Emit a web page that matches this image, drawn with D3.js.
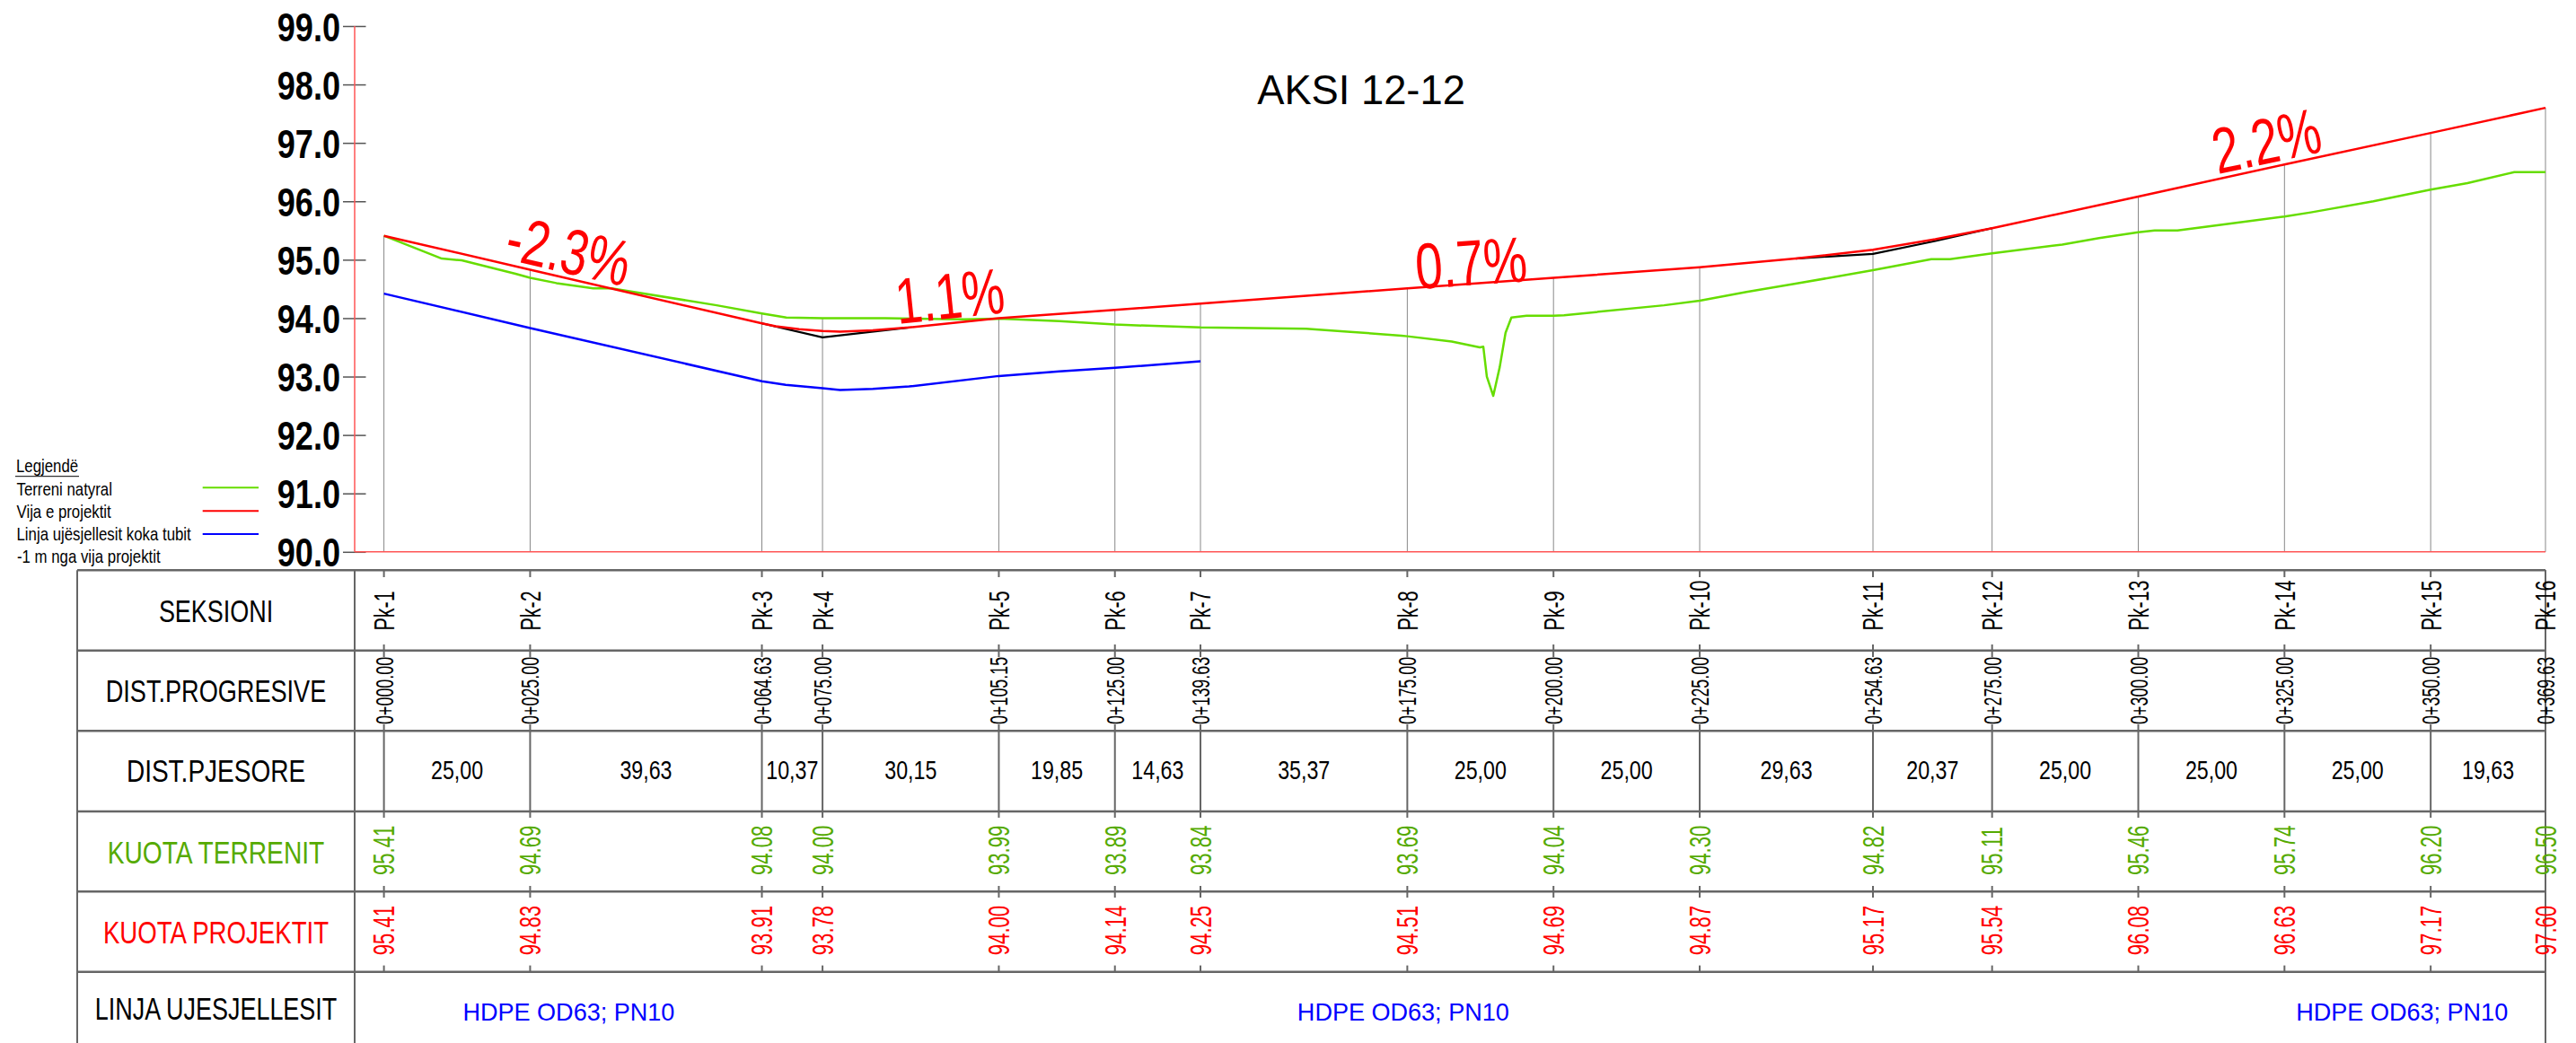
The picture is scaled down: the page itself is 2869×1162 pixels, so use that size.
<!DOCTYPE html>
<html><head><meta charset="utf-8">
<script src="https://cdn.jsdelivr.net/npm/d3@7/dist/d3.min.js"></script>
<style>html,body{margin:0;padding:0;background:#fff}svg{display:block}text{font-family:"Liberation Sans",Arial,sans-serif}</style>
</head><body><svg id="c" width="2869" height="1162"></svg>
<script>
const sections=["Pk-1","Pk-2","Pk-3","Pk-4","Pk-5","Pk-6","Pk-7","Pk-8","Pk-9","Pk-10","Pk-11","Pk-12","Pk-13","Pk-14","Pk-15","Pk-16"];
const chainage=[0,25,64.63,75,105.15,125,139.63,175,200,225,254.63,275,300,325,350,369.63];
const chainageLabels=["0+000.00","0+025.00","0+064.63","0+075.00","0+105.15","0+125.00","0+139.63","0+175.00","0+200.00","0+225.00","0+254.63","0+275.00","0+300.00","0+325.00","0+350.00","0+369.63"];
const partial=["25,00","39,63","10,37","30,15","19,85","14,63","35,37","25,00","25,00","29,63","20,37","25,00","25,00","25,00","19,63"];
const terrainLabels=["95.41","94.69","94.08","94.00","93.99","93.89","93.84","93.69","94.04","94.30","94.82","95.11","95.46","95.74","96.20","96.50"];
const projectLabels=["95.41","94.83","93.91","93.78","94.00","94.14","94.25","94.51","94.69","94.87","95.17","95.54","96.08","96.63","97.17","97.60"];
const terrainLine=[[0,95.41],[9.9,95.02],[13.3,94.99],[22.5,94.76],[25,94.69],[29.5,94.6],[35.8,94.51],[38.9,94.51],[56.9,94.22],[64.63,94.08],[68.8,94.01],[75,94],[85.7,94],[99.2,93.98],[105.15,93.99],[115.5,93.95],[125,93.89],[139.63,93.84],[157.7,93.82],[164.7,93.77],[174,93.7],[175,93.69],[182.6,93.6],[187.4,93.5],[188,93.51],[188.6,93],[189.7,92.67],[190.8,93.16],[191.8,93.75],[192.8,94.01],[195.4,94.04],[200,94.04],[201.8,94.05],[218.9,94.22],[225,94.3],[233,94.45],[241.4,94.59],[254.63,94.82],[264.6,95.01],[267.8,95.01],[275,95.11],[287,95.26],[293.3,95.37],[300,95.47],[302.8,95.5],[306.7,95.5],[325,95.74],[329.5,95.81],[340.2,96.0],[350,96.2],[356.3,96.31],[364.3,96.5],[369.63,96.5]];
const projectLine=[[0,95.41],[25,94.83],[64.63,93.91],[67,93.86],[71,93.81],[75,93.78],[78,93.77],[83.6,93.79],[89.8,93.84],[105.15,94],[125,94.14],[139.63,94.25],[175,94.51],[200,94.69],[225,94.87],[241.4,95.02],[254.63,95.17],[265.3,95.35],[275,95.54],[300,96.08],[325,96.63],[350,97.17],[369.63,97.6]];
const blackLineA=[[64.63,93.91],[75,93.67],[89.8,93.84]];
const blackLineB=[[241.4,95.02],[254.63,95.1],[265.3,95.32],[275,95.54]];
const pipeLine=[[0,94.42],[25,93.83],[64.63,92.92],[68.7,92.86],[75,92.8],[78,92.77],[83.6,92.79],[89.8,92.83],[105.15,93.01],[115.5,93.09],[125,93.15],[139.63,93.26]];
const yTicks=[90,91,92,93,94,95,96,97,98,99];
const rowNames=["SEKSIONI","DIST.PROGRESIVE","DIST.PJESORE","KUOTA TERRENIT","KUOTA PROJEKTIT","LINJA UJESJELLESIT"];
const pipeTexts=["HDPE OD63; PN10","HDPE OD63; PN10","HDPE OD63; PN10"];
const pipeTextAt=[31.6,174.3,345.1];
const gradeLabels=["-2.3%","1.1%","0.7%","2.2%"];
const legendNames=["Terreni natyral","Vija e projektit","Linja ujësjellesit koka tubit"];

const GREEN="#66dd00",TXTGREEN="#55aa00",RED="#ff0000",BLUE="#0000ff",GRID="#666";
const svg=d3.select("#c");
const x=d3.scaleLinear().domain([0,369.63]).range([427.6,2835]);
const y=d3.scaleLinear().domain([90,99]).range([614.8,29]);
const rowY=[635.2,724.7,814.3,904,993.3,1082.8,1162];
const tableL=86,tableM=395,tableR=2835;

function label(g,str,px,py,size,sx,opt={}){
  const rot=opt.rot||0;
  return g.append("text").text(str)
   .attr("transform",`translate(${px},${py}) rotate(${rot}) scale(${sx},1)`)
   .attr("text-anchor",opt.anchor||"middle").attr("font-size",size)
   .attr("font-weight",opt.weight||"normal").attr("fill",opt.fill||"#000");
}

// vertical station lines in the profile
const topAt=i=>Math.max(+terrainLabels[i],+projectLabels[i]);
svg.append("g").selectAll("line").data(chainage).join("line")
  .attr("x1",d=>x(d)).attr("x2",d=>x(d)).attr("y1",(d,i)=>y(topAt(i))).attr("y2",y(90))
  .attr("stroke","#888").attr("stroke-width",1);

// y axis
const axisX=407.5,tick=25.5;
const ax=svg.append("g").attr("transform",`translate(${axisX},0)`)
  .call(d3.axisLeft(y).tickValues(yTicks).tickSize(tick).tickPadding(3).tickFormat(d3.format(".1f")));
ax.select(".domain").remove();
ax.selectAll("line").attr("stroke","#555").attr("stroke-width",1.5);
ax.selectAll("text").attr("font-size",44).attr("font-weight","bold").attr("fill","#000")
  .attr("font-family",'"Liberation Sans",Arial,sans-serif')
  .attr("x",0).attr("dy",null).attr("text-anchor","end").attr("dominant-baseline","auto")
  .attr("transform",d=>`translate(${-tick-3},16) scale(.82,1)`);
svg.append("line").attr("x1",tableM).attr("x2",tableM).attr("y1",y(99)).attr("y2",y(90)).attr("stroke","#f55").attr("stroke-width",1.5);
svg.append("line").attr("x1",tableM).attr("x2",tableR).attr("y1",y(90)).attr("y2",y(90)).attr("stroke","#f55").attr("stroke-width",1.5);

// profile lines
const line=d3.line().x(d=>x(d[0])).y(d=>y(d[1]));
const draw=(d,c,w)=>svg.append("path").datum(d).attr("d",line).attr("fill","none").attr("stroke",c).attr("stroke-width",w).attr("stroke-linejoin","round");
draw(blackLineA,"#000",2.2);draw(blackLineB,"#000",2.2);
draw(terrainLine,GREEN,2.5);
draw(pipeLine,BLUE,2.5);
draw(projectLine,RED,2.5);

// title and grades
const T=svg.append("g");
label(T,"AKSI 12-12",1516,116,46,.985,{});
label(T,gradeLabels[0],560,288,72,.74,{anchor:"start",rot:13,fill:RED});
label(T,gradeLabels[1],1000,361,72,.74,{anchor:"start",rot:-6,fill:RED});
label(T,gradeLabels[2],1578,322,72,.76,{anchor:"start",rot:-4,fill:RED});
label(T,gradeLabels[3],2470,194,72,.74,{anchor:"start",rot:-12,fill:RED});

// table
const tb=svg.append("g");
rowY.slice(0,6).forEach(v=>tb.append("line").attr("x1",tableL).attr("x2",tableR).attr("y1",v).attr("y2",v).attr("stroke",GRID).attr("stroke-width",2.5));
[tableL,tableM,tableR].forEach(v=>tb.append("line").attr("x1",v).attr("x2",v).attr("y1",rowY[0]).attr("y2",rowY[6]).attr("stroke",GRID).attr("stroke-width",2));
const rowStyles=[["#000",692.6,.77],["#000",782,.775],["#000",871.3,.8],[TXTGREEN,961.5,.805],[RED,1050.7,.79],["#000",1136.4,.77]];
rowNames.forEach((n,i)=>label(tb,n,240.5,rowStyles[i][1],35,rowStyles[i][2],{fill:rowStyles[i][0]}));

// station ticks inside rows
const segs=[[635.2,643],[718,724.7],[724.7,732],[807,904],[904,911],[987,993.3],[993.3,1000],[1075.6,1082.8]];
chainage.forEach(c=>segs.forEach(s=>tb.append("line").attr("x1",x(c)).attr("x2",x(c)).attr("y1",s[0]).attr("y2",s[1]).attr("stroke",GRID).attr("stroke-width",2)));

const vert=(arr,baseY,size,sx,fill)=>arr.forEach((t,i)=>{
  label(tb,t,x(chainage[i])+size*.358,baseY,size,sx,{anchor:"start",rot:-90,fill});
});
vert(sections,702.5,32,.67,"#000");
vert(chainageLabels,807,28,.64,"#000");
vert(terrainLabels,975,33,.67,TXTGREEN);
vert(projectLabels,1064.2,33,.67,RED);
partial.forEach((t,i)=>label(tb,t,(x(chainage[i])+x(chainage[i+1]))/2,868,29,.8));
pipeTexts.forEach((t,i)=>label(tb,t,x(pipeTextAt[i]),1137.4,28,.966,{fill:BLUE}));

// legend
const L=svg.append("g");
label(L,"Legjendë",18,526,20.5,.82,{anchor:"start"});
L.append("line").attr("x1",17).attr("x2",88).attr("y1",530.7).attr("y2",530.7).attr("stroke","#000").attr("stroke-width",1);
const legBase=[551.7,577.3,601.7],legLine=[543.3,569.3,595],legCol=[GREEN,RED,BLUE];
legendNames.forEach((n,i)=>{
  label(L,n,18.5,legBase[i],20.5,.82,{anchor:"start"});
  L.append("line").attr("x1",225.7).attr("x2",288).attr("y1",legLine[i]).attr("y2",legLine[i]).attr("stroke",legCol[i]).attr("stroke-width",2);
});
label(L,"-1 m nga vija projektit",19,627,20.5,.82,{anchor:"start"});
</script></body></html>
